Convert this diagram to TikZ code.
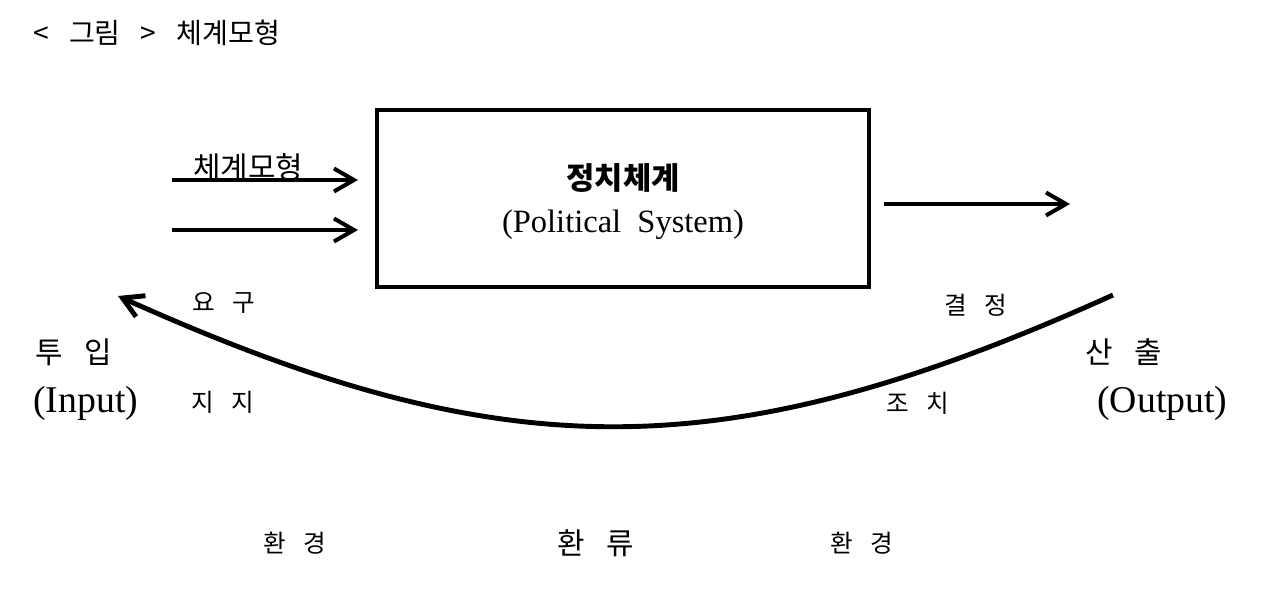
\documentclass[tikz,border=0pt]{standalone}
\usepackage{fontspec}
\setmainfont{Liberation Serif}[WordSpace=2]
\newfontfamily\kr{Noto Sans CJK KR}[WordSpace=4]
\newfontfamily\krt{Noto Sans CJK KR}[WordSpace=3.2]
\usetikzlibrary{arrows.meta}
\tikzset{>={Straight Barb[length=4mm,width=4.6mm]}}
\tikzstyle{kor}=[inner sep=0pt,font=\kr\fontsize{14}{16}\selectfont]
\tikzstyle{korbig}=[inner sep=0pt,font=\kr\fontsize{17}{20}\selectfont]
\tikzstyle{lat}=[inner sep=0pt,font=\fontsize{21.5}{23}\selectfont]
\tikzstyle{flow}=[->,line width=2.3pt]

\begin{document}
\begin{tikzpicture}[x=0.02cm,y=-0.02cm]
  \useasboundingbox (0,0) rectangle (1280,615);
  \node[kor,font=\krt\fontsize{16}{18}\selectfont,anchor=west] (title) at (33,33) {< 그림 > 체계모형};
  % political system
  \node[draw,line width=2.3pt,minimum width=9.84cm,minimum height=3.54cm] (polsys) at (623,198.5) {};
  \node[kor,font=\kr\bfseries\fontsize{17.5}{19}\selectfont] (pstitle) at (623,178) {정치체계};
  \node[lat,font=\fontsize{18.5}{20}\selectfont] (psname) at (623,225) {(Political System)};
  % inputs and output
  \coordinate (ina) at (172,180);
  \coordinate (inatip) at (358,180);
  \coordinate (inb) at (172,230);
  \coordinate (inbtip) at (358,230);
  \coordinate (outa) at (884,204);
  \coordinate (outatip) at (1070,204);
  \draw[flow] (ina) -- (inatip);
  \draw[flow] (inb) -- (inbtip);
  \draw[flow] (outa) -- (outatip);
  \node[kor,font=\kr\fontsize{17}{19}\selectfont] (model) at (248,167) {체계모형};
  % feedback
  \coordinate (fbstart) at (1113,295);
  \coordinate (fbend) at (118,296);
  \draw[flow,line width=2.8pt] (fbstart) .. controls (725,470) and (505,470) .. (fbend);
  \node[kor] (demand) at (224,303) {요 구};
  \node[kor] (support) at (223,402) {지 지};
  \node[kor] (decision) at (976,305) {결 정};
  \node[kor] (action) at (918,403) {조 치};
  \node[korbig,anchor=west] (input) at (35,352) {투 입};
  \node[lat,anchor=west] (inputen) at (33,403) {(Input)};
  \node[korbig,anchor=west] (output) at (1085,352) {산 출};
  \node[lat,anchor=west] (outputen) at (1097,403) {(Output)};
  % environment
  \node[kor] (envl) at (295,543) {환 경};
  \node[korbig] (feedback) at (596,543) {환 류};
  \node[kor] (envr) at (862,543) {환 경};
\end{tikzpicture}
\end{document}
